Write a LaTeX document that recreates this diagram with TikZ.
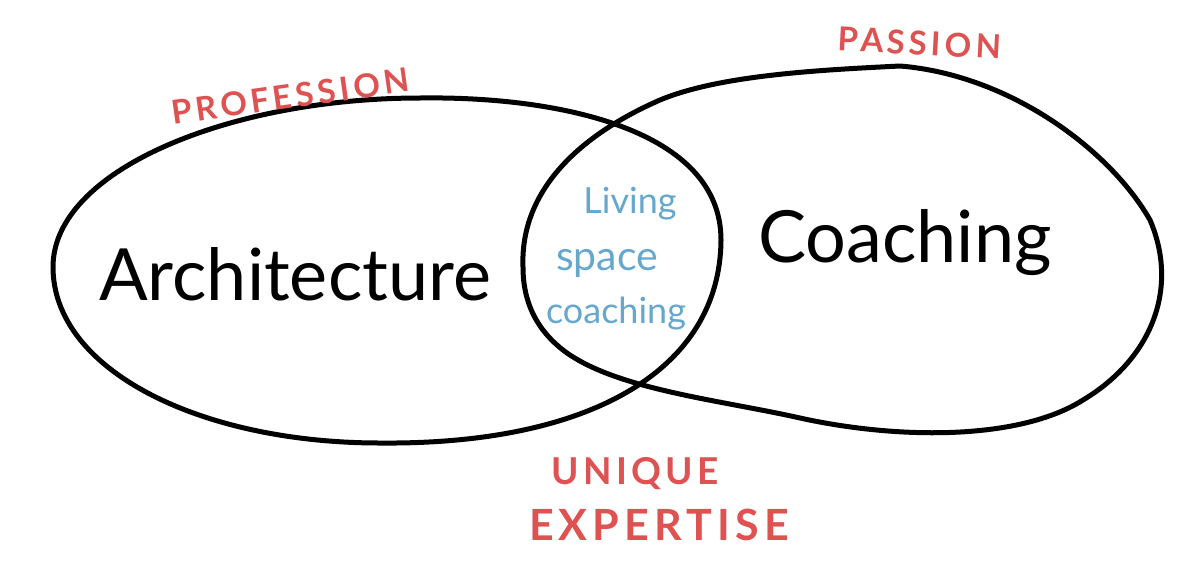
\documentclass[tikz,border=0pt]{standalone}
\usepackage{fontspec}
\setmainfont{Lato}
\newfontfamily\redfont[LetterSpace=12]{Lato Bold}
\newfontfamily\bluefont{Lato}
\definecolor{penred}{RGB}{222,82,82}
\definecolor{penblue}{RGB}{102,167,206}
\tikzset{
  outline/.style={line width=5pt, draw=black, line join=round},
  bigword/.style={anchor=base, text=black, font=\fontsize{72}{72}\selectfont},
  redword/.style={anchor=base, text=penred, inner sep=0pt},
  blueword/.style={anchor=base, text=penblue, inner sep=0pt, font=\bluefont\fontsize{36}{36}\selectfont},
}
\begin{document}
\begin{tikzpicture}[x=1pt,y=-1pt]
\useasboundingbox (0,0) rectangle (1200,587);
% left ellipse (profession)
\draw[outline] (53,267) .. controls (53,170) and (230,98) .. (420,98)
  .. controls (560,96) and (721,130) .. (721,240)
  .. controls (720,370) and (590,445) .. (380,443)
  .. controls (200,443) and (53,370) .. (53,267) -- cycle;
% right blob (passion)
\draw[outline] (523,267) .. controls (520,190) and (580,135) .. (660,100)
  .. controls (720,75) and (820,70) .. (900,66)
  .. controls (1010,75) and (1110,150) .. (1150,220)
  .. controls (1180,290) and (1150,360) .. (1083,400)
  .. controls (1020,440) and (900,440) .. (800,418)
  .. controls (720,400) and (620,390) .. (567,353)
  .. controls (535,330) and (523,300) .. (523,267) -- cycle;
% main words
\node[bigword] (arch) at (295,300) {Architecture};
\node[bigword] (coach) at (905,262) {Coaching};
% intersection text
\node[blueword] (living) at (630,213) {Living};
\node[blueword, font=\bluefont\fontsize{41}{41}\selectfont] (space) at (607,270) {space};
\node[blueword] (coaching) at (616,323) {coaching};
% red labels
\node[redword, font=\redfont\fontsize{33}{33}\selectfont, rotate=8] (prof) at (292,108) {PROFESSION};
\node[redword, font=\redfont\fontsize{33}{33}\selectfont, rotate=-3] (pass) at (919,55) {PASSION};
\node[redword, font=\redfont\fontsize{37}{37}\selectfont] (uniq) at (635,484) {UNIQUE};
\node[redword, font=\redfont\fontsize{43}{43}\selectfont] (expt) at (659,540) {EXPERTISE};
\end{tikzpicture}
\end{document}
